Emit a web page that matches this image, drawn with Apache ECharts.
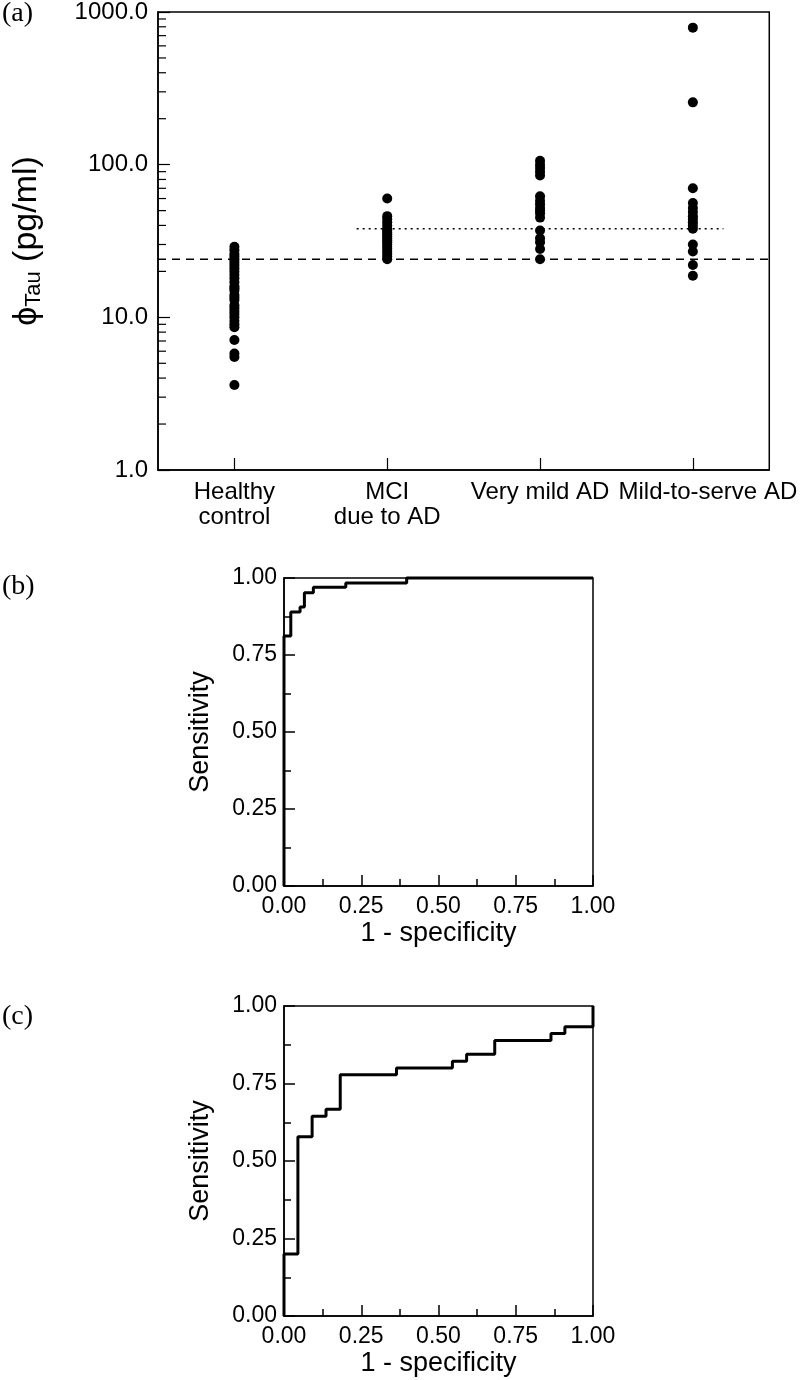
<!DOCTYPE html>
<html>
<head>
<meta charset="utf-8">
<script src="https://cdn.jsdelivr.net/npm/echarts@6/dist/echarts.min.js"></script>
<style>
  html, body { margin: 0; padding: 0; background: #fff; }
  #chart { width: 800px; height: 1380px; }
</style>
</head>
<body>
<div id="chart"></div>
<script>
// panel (a): phi-Tau per group, log scale
const groups = ['Healthy\ncontrol', 'MCI\ndue to AD', 'Very mild AD', 'Mild-to-serve AD'];
const healthyControl = [29, 27.5, 26, 25, 24, 23, 22, 21, 20, 19, 18, 17, 16, 15.5, 15, 14, 13.5, 13, 12, 11.5, 11, 10.5, 10, 9.5, 9, 8.6, 7.1, 5.8, 5.5, 3.6];
const mciDueToAD = [60, 46, 44, 42, 40, 38, 37, 36, 35, 34, 33, 32, 31, 30, 29, 28, 27, 26, 25, 24];
const veryMildAD = [106, 100, 95, 90, 85, 62, 58, 55, 52, 50, 48, 45, 37, 33, 31, 28, 24];
const mildToSevereAD = [790, 256, 70, 56, 52, 49, 46, 44, 42, 40, 38, 30, 27, 22, 18.7];
const cutoffDashed = 24;
const cutoffDotted = 38;
const logMinorTicks = [2, 3, 4, 5, 6, 7, 8, 9, 20, 30, 40, 50, 60, 70, 80, 90, 200, 300, 400, 500, 600, 700, 800, 900];

// panel (b) ROC corners
const rocB_fpr = [0, 0, 0.022, 0.052, 0.066, 0.095, 0.2, 0.397, 1.0];
const rocB_tpr = [0, 0.812, 0.89, 0.906, 0.952, 0.97, 0.984, 1.0, 1.0];

// panel (c) ROC corners
const rocC_fpr = [0, 0, 0.045, 0.091, 0.136, 0.182, 0.364, 0.545, 0.591, 0.682, 0.864, 0.909, 1.0, 1.0];
const rocC_tpr = [0, 0.2, 0.578, 0.644, 0.667, 0.778, 0.8, 0.822, 0.844, 0.889, 0.911, 0.933, 0.933, 1.0];

const FONT = 'Liberation Sans, Arial, sans-serif';
const black = '#000';

const chart = echarts.init(document.getElementById('chart'));

const groupData = [healthyControl, mciDueToAD, veryMildAD, mildToSevereAD];
const scatterData = [];
groupData.forEach((arr, i) => arr.forEach(v => scatterData.push([i, v])));

// last category label sits a bit right of its tick in the original
const categoryData = groups.map((g, i) =>
  i === groups.length - 1 ? { value: g, textStyle: { padding: [0, 0, 0, 30] } } : g
);

const rocAxis = (gridIndex, isY) => ({
  type: 'value',
  gridIndex: gridIndex,
  min: 0,
  max: 1,
  interval: 0.25,
  axisLine: { show: true, onZero: false, lineStyle: { color: black, width: 1.5 } },
  axisTick: { show: true, inside: true, length: 11, lineStyle: { color: black, width: 1.5 } },
  minorTick: { show: true, splitNumber: 2, length: 7, lineStyle: { color: black, width: 1.5 } },
  splitLine: { show: false },
  axisLabel: {
    color: black, fontSize: 23, fontFamily: FONT, margin: isY ? 7 : 9,
    formatter: v => v.toFixed(2)
  },
  name: isY ? 'Sensitivity' : '1 - specificity',
  nameLocation: 'middle',
  nameGap: isY ? 70 : 34,
  nameTextStyle: { color: black, fontSize: 27, fontFamily: FONT }
});

const gridBox = { show: true, borderColor: black, borderWidth: 1.5, backgroundColor: 'transparent' };

chart.setOption({
  animation: false,
  backgroundColor: '#fff',
  grid: [
    { left: 158, top: 10, width: 613, height: 460, ...gridBox },
    { left: 284, top: 578, width: 309, height: 308, ...gridBox },
    { left: 284, top: 1006, width: 309, height: 310, ...gridBox }
  ],
  xAxis: [
    {
      type: 'category',
      gridIndex: 0,
      data: categoryData,
      boundaryGap: true,
      axisLine: { show: true, onZero: false, lineStyle: { color: black, width: 1.5 } },
      axisTick: { show: true, inside: true, alignWithLabel: true, length: 12, lineStyle: { color: black, width: 1.2 } },
      axisLabel: { interval: 0, hideOverlap: false, color: black, fontSize: 24, lineHeight: 25, fontFamily: FONT, margin: 10 },
      splitLine: { show: false }
    },
    {
      type: 'value',
      gridIndex: 0,
      min: -0.5,
      max: 3.5,
      show: false
    },
    rocAxis(1, false),
    rocAxis(2, false)
  ],
  yAxis: [
    {
      type: 'log',
      logBase: 10,
      gridIndex: 0,
      min: 1,
      max: 1000,
      axisLine: { show: true, onZero: false, lineStyle: { color: black, width: 1.5 } },
      axisTick: { show: true, inside: true, length: 12, lineStyle: { color: black, width: 1.2 } },
      splitLine: { show: false },
      axisLabel: { color: black, fontSize: 24, fontFamily: FONT, margin: 10, formatter: v => Number(v).toFixed(1) },
      name: '{p|ϕ}{s|Tau}{p| (pg/ml)}',
      nameLocation: 'middle',
      nameGap: 113,
      nameTextStyle: {
        color: black, fontFamily: FONT, fontSize: 34,
        rich: {
          p: { fontSize: 34, fontFamily: FONT, color: black },
          s: { fontSize: 22, fontFamily: FONT, color: black, verticalAlign: 'bottom', padding: [14, 0, 0, 0] }
        }
      }
    },
    rocAxis(1, true),
    rocAxis(2, true)
  ],
  graphic: [
    { type: 'text', left: 2, top: 0, style: { text: '(a)', font: '28px "Liberation Serif", "Times New Roman", serif', fill: black } },
    { type: 'text', left: 2, top: 573, style: { text: '(b)', font: '28px "Liberation Serif", "Times New Roman", serif', fill: black } },
    { type: 'text', left: 2, top: 1003, style: { text: '(c)', font: '28px "Liberation Serif", "Times New Roman", serif', fill: black } }
  ],
  series: [
    {
      type: 'line',
      xAxisIndex: 1,
      yAxisIndex: 0,
      data: [[-0.5, cutoffDashed], [3.5, cutoffDashed]],
      symbol: 'none',
      lineStyle: { color: black, width: 1.5, type: [8, 6] },
      z: 1
    },
    {
      type: 'line',
      xAxisIndex: 1,
      yAxisIndex: 0,
      data: [[0.8, cutoffDotted], [3.2, cutoffDotted]],
      symbol: 'none',
      lineStyle: { color: black, width: 1.5, type: [2, 4] },
      z: 1
    },
    {
      type: 'scatter',
      xAxisIndex: 0,
      yAxisIndex: 0,
      data: scatterData,
      symbol: 'circle',
      symbolSize: 10,
      itemStyle: { color: black, opacity: 1 },
      z: 3
    },
    {
      type: 'custom',
      xAxisIndex: 1,
      yAxisIndex: 0,
      data: logMinorTicks.map(v => [0, v]),
      encode: { x: 0, y: 1 },
      renderItem: (params, api) => {
        const cs = params.coordSys;
        const y = api.coord([0, api.value(1)])[1];
        return {
          type: 'line',
          shape: { x1: cs.x, y1: y, x2: cs.x + 8, y2: y },
          style: { stroke: black, lineWidth: 1.2 }
        };
      },
      silent: true
    },
    {
      type: 'line',
      xAxisIndex: 2,
      yAxisIndex: 1,
      data: rocB_fpr.map((x, i) => [x, rocB_tpr[i]]),
      step: 'end',
      symbol: 'none',
      lineStyle: { color: black, width: 3 },
      clip: false
    },
    {
      type: 'line',
      xAxisIndex: 3,
      yAxisIndex: 2,
      data: rocC_fpr.map((x, i) => [x, rocC_tpr[i]]),
      step: 'end',
      symbol: 'none',
      lineStyle: { color: black, width: 3 },
      clip: false
    }
  ]
});
</script>
</body>
</html>
